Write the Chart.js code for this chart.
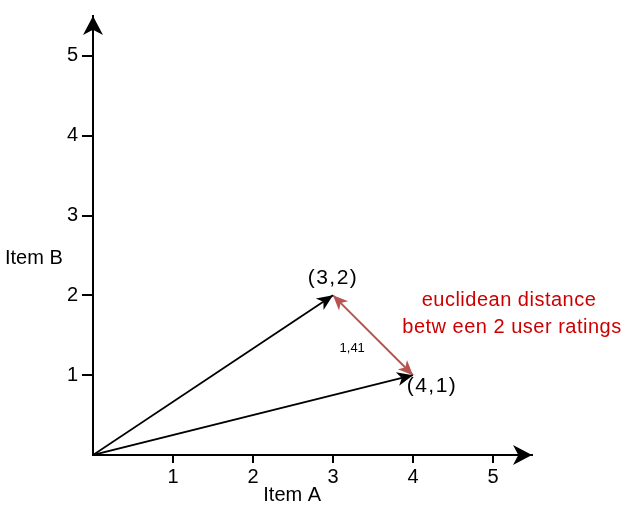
<!DOCTYPE html>
<html>
<head>
<meta charset="utf-8">
<script src="https://cdn.jsdelivr.net/npm/chart.js@4/dist/chart.umd.min.js"></script>
<style>
html,body{margin:0;padding:0;background:#fff;}
#wrap{width:624px;height:508px;position:relative;}
</style>
</head>
<body>
<div id="wrap"><canvas id="c" width="624" height="508"></canvas></div>
<script>
// ---- data ----
const xTicks = [1, 2, 3, 4, 5];
const yTicks = [1, 2, 3, 4, 5];
const vectorNames = ['(3,2)', '(4,1)'];
const vectorX = [3, 4];
const vectorY = [2, 1];
const distanceLabel = '1,41';
const noteLines = ['euclidean distance', 'betw een 2 user ratings'];
const xTitle = 'Item A';
const yTitle = 'Item B';
const xMax = 5.4875;
const yMax = 5.5;

const FONT = "'Liberation Sans', Arial, sans-serif";

const datasets = vectorX.map((x, i) => ({
  label: vectorNames[i],
  data: [{x: 0, y: 0}, {x: x, y: vectorY[i]}],
  showLine: true, borderColor: '#000', borderWidth: 1.8,
  pointRadius: 0, arrow: 'end', arrowLen: 16, arrowHalf: 7
}));
datasets.push({
  label: 'distance',
  data: vectorX.map((x, i) => ({x: x, y: vectorY[i]})),
  showLine: true, borderColor: '#b85450', borderWidth: 2,
  pointRadius: 0, arrow: 'both', arrowLen: 15, arrowHalf: 6.5
});

function arrowHead(ctx, tx, ty, fx, fy, len, half, color) {
  const a = Math.atan2(ty - fy, tx - fx);
  ctx.save();
  ctx.translate(tx, ty);
  ctx.rotate(a);
  ctx.beginPath();
  ctx.moveTo(0, 0);
  ctx.lineTo(-len, -half);
  ctx.lineTo(-len * 0.72, 0);
  ctx.lineTo(-len, half);
  ctx.closePath();
  ctx.fillStyle = color;
  ctx.fill();
  ctx.restore();
}

function txt(ctx, s, x, y, spacing) {
  ctx.letterSpacing = spacing || '0px';
  ctx.fillText(s, x, y);
  ctx.letterSpacing = '0px';
}

const overlay = {
  id: 'overlay',
  afterDatasetsDraw(chart) {
    const ctx = chart.ctx;
    const xs = chart.scales.x, ys = chart.scales.y;
    const ox = xs.getPixelForValue(0), oy = ys.getPixelForValue(0);
    arrowHead(ctx, xs.getPixelForValue(xMax), oy, ox, oy, 19, 10, '#000');
    arrowHead(ctx, ox, ys.getPixelForValue(yMax), ox, oy, 19, 10, '#000');
    chart.data.datasets.forEach((ds) => {
      const pts = ds.data;
      const p0 = pts[0], p1 = pts[pts.length - 1];
      const x0 = xs.getPixelForValue(p0.x), y0 = ys.getPixelForValue(p0.y);
      const x1 = xs.getPixelForValue(p1.x), y1 = ys.getPixelForValue(p1.y);
      if (ds.arrow === 'end' || ds.arrow === 'both') arrowHead(ctx, x1, y1, x0, y0, ds.arrowLen, ds.arrowHalf, ds.borderColor);
      if (ds.arrow === 'both') arrowHead(ctx, x0, y0, x1, y1, ds.arrowLen, ds.arrowHalf, ds.borderColor);
    });
    ctx.save();
    ctx.textBaseline = 'middle';
    ctx.fillStyle = '#000';
    ctx.font = '21px ' + FONT;
    ctx.textAlign = 'center';
    txt(ctx, vectorNames[0], xs.getPixelForValue(vectorX[0]), ys.getPixelForValue(vectorY[0]) - 17, '1.5px');
    txt(ctx, vectorNames[1], xs.getPixelForValue(vectorX[1]) + 19, ys.getPixelForValue(vectorY[1]) + 11, '1.5px');
    ctx.font = '13px ' + FONT;
    txt(ctx, distanceLabel, xs.getPixelForValue(3.24), ys.getPixelForValue(1.34));
    ctx.font = '20px ' + FONT;
    ctx.fillStyle = '#cc0000';
    txt(ctx, noteLines[0], 509, ys.getPixelForValue(1.94), '0.5px');
    txt(ctx, noteLines[1], 512, ys.getPixelForValue(1.6), '0.5px');
    ctx.fillStyle = '#000';
    ctx.font = '20px ' + FONT;
    ctx.textAlign = 'left';
    txt(ctx, yTitle, 5, ys.getPixelForValue(2.46));
    ctx.textAlign = 'center';
    txt(ctx, xTitle, xs.getPixelForValue(2.49), oy + 40);
    ctx.restore();
  }
};

new Chart(document.getElementById('c'), {
  type: 'scatter',
  data: { datasets: datasets },
  plugins: [overlay],
  options: {
    responsive: false,
    animation: false,
    events: [],
    layout: { padding: { top: 15, right: 624 - 532, left: 0, bottom: 0 } },
    plugins: { legend: { display: false }, tooltip: { enabled: false } },
    scales: {
      x: {
        type: 'linear', min: 0, max: xMax,
        afterBuildTicks: s => { s.ticks = xTicks.map(v => ({value: v})); },
        afterFit: s => { s.height = 508 - 455; },
        border: { display: true, color: '#000', width: 2 },
        grid: { drawOnChartArea: false, drawTicks: true, tickLength: 8, color: '#000', lineWidth: 2 },
        ticks: { color: '#000', padding: 2, font: { family: FONT, size: 20 }, callback: v => String(v), maxRotation: 0 }
      },
      y: {
        type: 'linear', min: 0, max: yMax,
        afterBuildTicks: s => { s.ticks = yTicks.map(v => ({value: v})); },
        afterFit: s => { s.width = 93; },
        border: { display: true, color: '#000', width: 2 },
        grid: { drawOnChartArea: false, drawTicks: true, tickLength: 11, color: '#000', lineWidth: 2 },
        ticks: { color: '#000', padding: 4, font: { family: FONT, size: 20 }, callback: v => String(v) }
      }
    }
  }
});
</script>
</body>
</html>
